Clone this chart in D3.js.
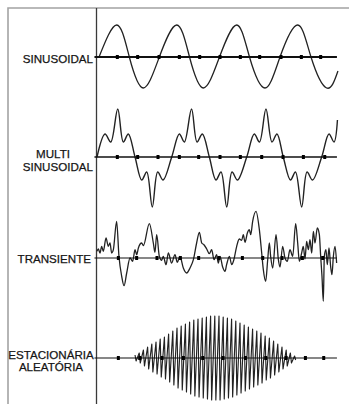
<!DOCTYPE html>
<html>
<head>
<meta charset="utf-8">
<script src="https://cdn.jsdelivr.net/npm/d3@7"></script>
<style>
  html, body { margin: 0; padding: 0; background: #fff; }
  svg { display: block; }
  .label { font-family: 'Liberation Sans', Arial, sans-serif; font-size: 11.6px; fill: #151515; stroke: #151515; stroke-width: 0.25px; }
</style>
</head>
<body>
<div id="chart"></div>
<script>
// time in ms, amplitude in arbitrary units (about +-50)
const sineTimes = [2.0, 19.4, 31.8, 45.5, 61.3, 78.4, 91.0, 104.6, 120.5, 137.4, 150.0, 165.2, 180.0, 197.4, 210.5, 225.9, 237.0];
const sineValues = [0, 32, 0, -31, 0, 32, 0, -31, 0, 32, 0, -31, 0, 32, 0, -31, -14];

const multiTimes = [0, 7.9, 13.5, 20.4, 25.9, 30.8, 37.4, 44.0, 48.9, 54.4, 59.7, 65.0,
  73.5, 81.0, 85.9, 93.0, 98.4, 103.6, 110.5, 117.0, 122.0, 127.6, 132.8, 138.2,
  147.3, 154.7, 159.8, 166.2, 172.1, 177.0, 183.2, 190.3, 195.2, 201.3, 206.6, 212.0,
  221.0, 228.2, 233.1, 236.5];
const multiValues = [0, 23, 15, 48, 15, 23, 0, -23, -15, -50, -15, -23,
  0, 23, 15, 48, 15, 23, 0, -23, -15, -50, -15, -23,
  0, 23, 15, 48, 15, 23, 0, -23, -15, -50, -15, -23,
  0, 23, 15, 37];

const transTimes = [0, 1.3, 2.95, 4.6, 6.2, 8.9, 11.1, 12.8, 14.4, 16.1,
  19.3, 21.6, 24.3, 26.6, 29.2, 32.5, 35.1, 37.4, 39.0, 40.7,
  43.9, 45.6, 51.5, 55.4, 57.0, 58.7, 61.3, 63.6, 65.2, 67.9,
  70.2, 73.4, 76.7, 79.0, 81.6, 84.9, 88.2, 91.5, 94.8, 98.0,
  100.7, 103.0, 105.2, 107.9, 110.5, 112.8, 115.1, 117.7, 119.3, 121.0,
  123.6, 125.9, 127.5, 130.2, 132.5, 134.8, 137.4, 140.0, 142.3, 143.9,
  145.6, 147.9, 149.8, 151.2, 153.1, 156.4, 159.7, 162.0, 163.6, 165.9,
  167.9, 169.5, 170.8, 172.8, 176.1, 178.4, 180.0, 182.6, 184.9, 187.2,
  189.8, 192.5, 195.4, 197.4, 199.0, 201.3, 202.9, 204.6, 206.2, 207.9,
  209.5, 211.2, 212.8, 214.4, 216.7, 218.7, 220.0, 221.3, 222.6, 223.6,
  225.2, 226.5, 228.2, 229.8, 231.1, 232.5, 234.1, 235.7];
const transValues = [6.7, 9, 5, 11.7, 6.7, 20, 11.7, 15, 5, 8.3,
  36.7, 1.7, -18.3, -27.7, -15, 0, -3.3, 8.3, 3.3, 10,
  15, 12.3, 34.3, 15, 5.7, 23.3, 1.7, -2.3, 1.7, -6.7,
  5, -5, 3.3, -4.3, 1.7, -10, -15, -10, -1.7, 15,
  25.7, 15, 13.3, 9, 4.3, 8.3, -1.7, 3.3, -5, 1.7,
  -9, -13.3, -6.7, 1.7, -6.7, -1, 11.7, 19, 17.7, 23.3,
  15.7, 25, 28.3, 23.3, 36.7, 46.7, 28.3, 5, -11.7, -23.3,
  -1.7, 15, 1.7, -10, 23.3, -1.7, -9, 11.7, 0, -3.3,
  8.3, 1.7, 34.3, 15, -3.3, 5, 11.7, -1, 16.7, 8.3,
  18.3, 5, 26.7, 15, 30, 23.3, 1.7, -18.3, -43.3, 1.7,
  8.3, -6.7, 10, -8.3, -16.7, 1.7, 11.7, -5];

// random stationary burst: one spike every burstPeriod ms
const burstStart = 37.4;
const burstPeriod = 4.13;
const burstAmps = [3, 5, 8, 11, 14, 16, 19, 21, 24, 27, 30, 32, 34, 36, 38, 39, 40, 41, 42, 42,
  42, 41, 40, 39, 37, 35, 33, 31, 29, 27, 25, 22, 20, 17, 14, 11, 8, 5, 2];

const ticks1 = [20, 40, 61, 81, 101, 121, 141, 160, 181, 201, 220];
const ticks2 = [20, 40, 60, 81, 100, 121, 141, 162, 183, 203, 224];
const ticks3 = [21, 39, 59, 82, 100, 120, 143, 163, 182, 202, 222];
const ticks4 = [21, 42, 64, 85, 104, 124, 146, 166, 186, 205, 223];

const labels = [['SINUSOIDAL'], ['MULTI', 'SINUSOIDAL'], ['TRANSIENTE'], ['ESTACIONÁRIA', 'ALEATÓRIA']];

(() => {
  const width = 349;
  const height = 404;
  const axisX = 96.5;

  const svg = d3.select('#chart').append('svg').attr('width', width).attr('height', height);

  /* Frame
  =========================================================================*/
  svg.append('path')
    .attr('d', `M8,${height} V8 H${width}`)
    .attr('fill', 'none')
    .attr('stroke', '#a3a3a3')
    .attr('stroke-width', 1.6);

  svg.append('line')
    .attr('x1', axisX).attr('x2', axisX)
    .attr('y1', 8).attr('y2', height)
    .attr('stroke', '#3a3a3a')
    .attr('stroke-width', 1.3);

  const x = d3.scaleLinear().domain([0, 240]).range([97, 341]);

  /* Panels
  =========================================================================*/
  const burst = [];
  burstAmps.forEach((a, i) => {
    const t = burstStart + i * burstPeriod;
    burst.push([t, a], [t + burstPeriod * 0.25, -a]);
  });

  const panels = [
    { base: 57, pts: d3.zip(sineTimes, sineValues), curve: d3.curveNatural, ticks: ticks1, axisW: 2, waveW: 1.3 },
    { base: 157, pts: d3.zip(multiTimes, multiValues), curve: d3.curveCatmullRom.alpha(0.5), ticks: ticks2, axisW: 1.3, waveW: 1.4 },
    { base: 258, pts: d3.zip(transTimes, transValues), curve: d3.curveMonotoneX, ticks: ticks3, axisW: 1.1, waveW: 1.3 },
    { base: 358, pts: burst, curve: d3.curveLinear, ticks: ticks4, axisW: 1.1, waveW: 1.15 }
  ];

  panels.forEach((p, i) => {
    const y = d3.scaleLinear().domain([-50, 50]).range([p.base + 50, p.base - 50]);
    const g = svg.append('g').attr('class', `panel-${i}`);

    g.append('path')
      .datum(p.pts)
      .attr('fill', 'none')
      .attr('stroke', '#222')
      .attr('stroke-width', p.waveW)
      .attr('stroke-linejoin', 'round')
      .attr('d', d3.line().x(d => x(d[0])).y(d => y(d[1])).curve(p.curve));

    g.append('line')
      .attr('x1', x(-2.5)).attr('x2', x(236))
      .attr('y1', y(0)).attr('y2', y(0))
      .attr('stroke', '#111')
      .attr('stroke-width', p.axisW);

    g.selectAll('rect')
      .data(p.ticks)
      .enter()
      .append('rect')
      .attr('x', d => x(d) - 1.5)
      .attr('y', y(0) - 2)
      .attr('width', 3)
      .attr('height', 4)
      .attr('fill', '#000');
  });

  /* Labels
  =========================================================================*/
  const lab = svg.append('g').attr('class', 'label');
  lab.append('text').attr('x', 93).attr('y', 62.5).attr('text-anchor', 'end').text(labels[0][0]);
  lab.append('text').attr('x', 53).attr('y', 157.5).attr('text-anchor', 'middle').text(labels[1][0]);
  lab.append('text').attr('x', 93).attr('y', 171).attr('text-anchor', 'end').text(labels[1][1]);
  lab.append('text').attr('x', 91).attr('y', 263).attr('text-anchor', 'end').text(labels[2][0]);
  lab.append('text').attr('x', 51).attr('y', 358.5).attr('text-anchor', 'middle').text(labels[3][0]);
  lab.append('text').attr('x', 51).attr('y', 370.8).attr('text-anchor', 'middle').text(labels[3][1]);
})();
</script>
</body>
</html>
